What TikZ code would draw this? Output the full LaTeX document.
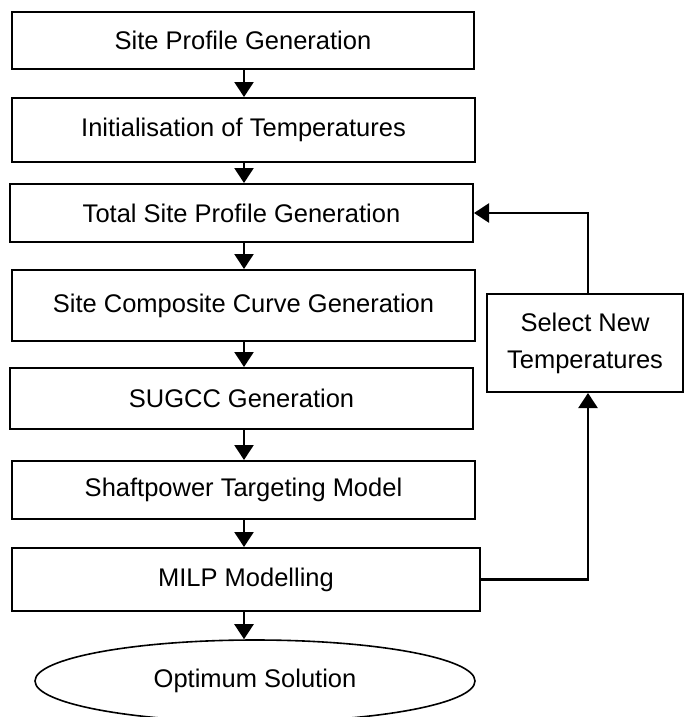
\documentclass[tikz,border=0pt]{standalone}
\usepackage{fontspec}
\setmainfont{Liberation Sans}
\usetikzlibrary{arrows.meta,shapes.geometric}
\begin{document}
\begin{tikzpicture}[x=1pt,y=-1pt,
  box/.style={draw,line width=2pt,rectangle,inner sep=0pt,font=\fontsize{25.5}{37}\selectfont},
  oval/.style={draw,line width=1.6pt,ellipse,inner sep=0pt,font=\fontsize{25.5}{37}\selectfont},
  flow/.style={line width=2.4pt,-{Triangle[length=15pt,width=19pt]}}]
\useasboundingbox (0,0) rectangle (684,717);
\node[box,minimum width=462pt,minimum height=57pt] (b1) at (243,40.5) {Site Profile Generation};
\node[box,minimum width=463pt,minimum height=64pt] (b2) at (243.5,130) {Initialisation of Temperatures};
\node[box,minimum width=463pt,minimum height=58pt] (b3) at (241.5,213) {Total Site Profile Generation};
\node[box,minimum width=463pt,minimum height=71pt] (b4) at (243.5,305.5) {Site Composite Curve Generation};
\node[box,minimum width=463pt,minimum height=61pt] (b5) at (241.5,398.5) {SUGCC Generation};
\node[box,minimum width=463pt,minimum height=58pt] (b6) at (243.5,490) {Shaftpower Targeting Model};
\node[box,minimum width=468pt,minimum height=63pt] (b7) at (246,579.5) {MILP Modelling};
\node[oval,minimum width=440pt,minimum height=82pt] (opt) at (255,681) {Optimum Solution};
\node[box,minimum width=196pt,minimum height=98pt,align=center] (sel) at (585,343) {Select New\\Temperatures};
\coordinate (a0) at (244,0);
\draw[flow] (b1.south -| a0) -- (b2.north -| a0);
\draw[flow] (b2.south -| a0) -- (b3.north -| a0);
\draw[flow] (b3.south -| a0) -- (b4.north -| a0);
\draw[flow] (b4.south -| a0) -- (b5.north -| a0);
\draw[flow] (b5.south -| a0) -- (b6.north -| a0);
\draw[flow] (b6.south -| a0) -- (b7.north -| a0);
\draw[flow] (b7.south -| a0) -- (opt.north -| a0);
\coordinate (sx) at (588,0);
\draw[flow] (sel.north -| sx) |- (b3.east);
\draw[flow] (b7.east) -| (sel.south -| sx);
\end{tikzpicture}
\end{document}
